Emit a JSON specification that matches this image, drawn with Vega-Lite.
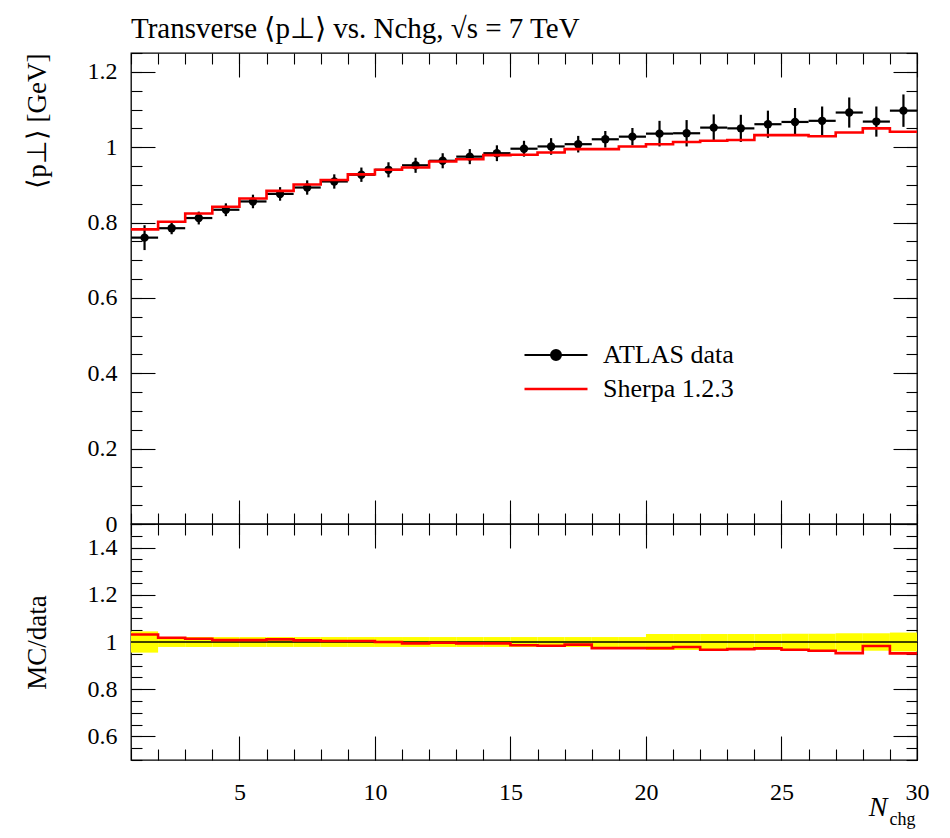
{
  "$schema": "https://vega.github.io/schema/vega-lite/v6.json",
  "padding": {"left": 22, "top": 14, "right": 10, "bottom": 5},
  "background": "white",
  "spacing": 0,
  "bounds": "flush",
  "resolve": {"scale": {"fill": "independent", "stroke": "independent"}, "legend": {"fill": "independent", "stroke": "independent"}},
  "data": {"values": [
    {"lo": 1, "hi": 2, "x": 1.5, "y": 0.760, "ylo": 0.727, "yhi": 0.793, "mc": 0.782, "ratio": 1.032, "blo": 0.955, "bhi": 1.045},
    {"lo": 2, "hi": 3, "x": 2.5, "y": 0.785, "ylo": 0.769, "yhi": 0.801, "mc": 0.802, "ratio": 1.018, "blo": 0.979, "bhi": 1.021},
    {"lo": 3, "hi": 4, "x": 3.5, "y": 0.812, "ylo": 0.795, "yhi": 0.829, "mc": 0.824, "ratio": 1.014, "blo": 0.979, "bhi": 1.021},
    {"lo": 4, "hi": 5, "x": 4.5, "y": 0.834, "ylo": 0.817, "yhi": 0.851, "mc": 0.842, "ratio": 1.008, "blo": 0.979, "bhi": 1.021},
    {"lo": 5, "hi": 6, "x": 5.5, "y": 0.856, "ylo": 0.838, "yhi": 0.874, "mc": 0.864, "ratio": 1.008, "blo": 0.979, "bhi": 1.021},
    {"lo": 6, "hi": 7, "x": 6.5, "y": 0.876, "ylo": 0.858, "yhi": 0.894, "mc": 0.884, "ratio": 1.011, "blo": 0.979, "bhi": 1.021},
    {"lo": 7, "hi": 8, "x": 7.5, "y": 0.893, "ylo": 0.874, "yhi": 0.912, "mc": 0.901, "ratio": 1.007, "blo": 0.979, "bhi": 1.021},
    {"lo": 8, "hi": 9, "x": 8.5, "y": 0.909, "ylo": 0.890, "yhi": 0.928, "mc": 0.913, "ratio": 1.004, "blo": 0.979, "bhi": 1.021},
    {"lo": 9, "hi": 10, "x": 9.5, "y": 0.927, "ylo": 0.908, "yhi": 0.946, "mc": 0.928, "ratio": 1.004, "blo": 0.979, "bhi": 1.021},
    {"lo": 10, "hi": 11, "x": 10.5, "y": 0.940, "ylo": 0.920, "yhi": 0.960, "mc": 0.940, "ratio": 1.000, "blo": 0.979, "bhi": 1.021},
    {"lo": 11, "hi": 12, "x": 11.5, "y": 0.952, "ylo": 0.932, "yhi": 0.972, "mc": 0.946, "ratio": 0.994, "blo": 0.979, "bhi": 1.021},
    {"lo": 12, "hi": 13, "x": 12.5, "y": 0.964, "ylo": 0.944, "yhi": 0.984, "mc": 0.962, "ratio": 0.997, "blo": 0.979, "bhi": 1.021},
    {"lo": 13, "hi": 14, "x": 13.5, "y": 0.975, "ylo": 0.955, "yhi": 0.995, "mc": 0.968, "ratio": 0.994, "blo": 0.979, "bhi": 1.021},
    {"lo": 14, "hi": 15, "x": 14.5, "y": 0.984, "ylo": 0.963, "yhi": 1.005, "mc": 0.979, "ratio": 0.994, "blo": 0.979, "bhi": 1.021},
    {"lo": 15, "hi": 16, "x": 15.5, "y": 0.996, "ylo": 0.975, "yhi": 1.017, "mc": 0.980, "ratio": 0.986, "blo": 0.979, "bhi": 1.021},
    {"lo": 16, "hi": 17, "x": 16.5, "y": 1.002, "ylo": 0.980, "yhi": 1.024, "mc": 0.986, "ratio": 0.984, "blo": 0.979, "bhi": 1.021},
    {"lo": 17, "hi": 18, "x": 17.5, "y": 1.008, "ylo": 0.986, "yhi": 1.030, "mc": 0.995, "ratio": 0.989, "blo": 0.979, "bhi": 1.021},
    {"lo": 18, "hi": 19, "x": 18.5, "y": 1.021, "ylo": 0.999, "yhi": 1.043, "mc": 0.995, "ratio": 0.974, "blo": 0.979, "bhi": 1.021},
    {"lo": 19, "hi": 20, "x": 19.5, "y": 1.028, "ylo": 1.005, "yhi": 1.051, "mc": 1.002, "ratio": 0.974, "blo": 0.979, "bhi": 1.021},
    {"lo": 20, "hi": 21, "x": 20.5, "y": 1.036, "ylo": 1.002, "yhi": 1.070, "mc": 1.008, "ratio": 0.974, "blo": 0.966, "bhi": 1.034},
    {"lo": 21, "hi": 22, "x": 21.5, "y": 1.037, "ylo": 1.002, "yhi": 1.072, "mc": 1.014, "ratio": 0.979, "blo": 0.966, "bhi": 1.034},
    {"lo": 22, "hi": 23, "x": 22.5, "y": 1.052, "ylo": 1.017, "yhi": 1.087, "mc": 1.017, "ratio": 0.967, "blo": 0.966, "bhi": 1.034},
    {"lo": 23, "hi": 24, "x": 23.5, "y": 1.050, "ylo": 1.014, "yhi": 1.086, "mc": 1.019, "ratio": 0.970, "blo": 0.966, "bhi": 1.034},
    {"lo": 24, "hi": 25, "x": 24.5, "y": 1.061, "ylo": 1.025, "yhi": 1.097, "mc": 1.032, "ratio": 0.973, "blo": 0.966, "bhi": 1.034},
    {"lo": 25, "hi": 26, "x": 25.5, "y": 1.067, "ylo": 1.030, "yhi": 1.104, "mc": 1.032, "ratio": 0.967, "blo": 0.965, "bhi": 1.035},
    {"lo": 26, "hi": 27, "x": 26.5, "y": 1.070, "ylo": 1.032, "yhi": 1.108, "mc": 1.029, "ratio": 0.963, "blo": 0.965, "bhi": 1.035},
    {"lo": 27, "hi": 28, "x": 27.5, "y": 1.092, "ylo": 1.052, "yhi": 1.132, "mc": 1.039, "ratio": 0.953, "blo": 0.963, "bhi": 1.037},
    {"lo": 28, "hi": 29, "x": 28.5, "y": 1.068, "ylo": 1.028, "yhi": 1.108, "mc": 1.050, "ratio": 0.983, "blo": 0.963, "bhi": 1.037},
    {"lo": 29, "hi": 30, "x": 29.5, "y": 1.097, "ylo": 1.054, "yhi": 1.140, "mc": 1.041, "ratio": 0.952, "blo": 0.960, "bhi": 1.040}
  ]},
  "config": {
    "font": "Liberation Serif",
    "view": {"stroke": "black", "strokeWidth": 1.3},
    "axis": {
      "grid": false, "domain": false, "labelFlush": false, "labelOverlap": false, "labelBound": false,
      "labelFontSize": 24, "labelColor": "black",
      "titleFontSize": 27, "titleFontWeight": "normal", "titleColor": "black",
      "tickColor": "black", "tickWidth": 1.1, "labels": false, "title": null
    }
  },
  "vconcat": [
    {
      "width": 786,
      "height": 471,
      "title": {"text": "Transverse ⟨p⊥⟩ vs. Nchg, √s = 7 TeV", "anchor": "start", "frame": "group", "font": "Liberation Serif", "fontSize": 29, "fontWeight": "normal", "color": "black", "offset": 8},
      "resolve": {"axis": {"x": "independent", "y": "independent"}},
      "layer": [
        {
          "mark": {"type": "rule", "color": "black", "strokeWidth": 2.2},
          "encoding": {
            "x": {"field": "lo", "type": "quantitative", "scale": {"domain": [1, 30], "nice": false, "zero": false},
                  "axis": {"orient": "bottom", "values": [5, 10, 15, 20, 25, 30], "tickSize": -24, "labels": false, "title": null}},
            "x2": {"field": "hi"},
            "y": {"field": "y", "type": "quantitative", "scale": {"domain": [0, 1.25], "nice": false, "zero": false},
                  "axis": {"orient": "left", "values": [0, 0.2, 0.4, 0.6, 0.8, 1, 1.2], "tickSize": -24, "labels": true, "format": "~g",
                           "labelFont": "Liberation Serif", "labelFontSize": 24, "labelPadding": 38,
                           "title": "⟨p⊥⟩ [GeV]", "titleFont": "Liberation Serif", "titleAnchor": "end", "titlePadding": 36}}
          }
        },
        {
          "mark": {"type": "rule", "color": "black", "strokeWidth": 2.2},
          "encoding": {
            "x": {"field": "x", "type": "quantitative",
                  "axis": {"orient": "bottom", "values": [1,2,3,4,5,6,7,8,9,10,11,12,13,14,15,16,17,18,19,20,21,22,23,24,25,26,27,28,29,30], "tickSize": -11, "labels": false, "title": null}},
            "y": {"field": "ylo", "type": "quantitative",
                  "axis": {"orient": "left", "values": [0,0.05,0.1,0.15,0.2,0.25,0.3,0.35,0.4,0.45,0.5,0.55,0.6,0.65,0.7,0.75,0.8,0.85,0.9,0.95,1,1.05,1.1,1.15,1.2,1.25], "tickSize": -11, "labels": false, "title": null}},
            "y2": {"field": "yhi"}
          }
        },
        {
          "mark": {"type": "point", "filled": true, "size": 70, "opacity": 1},
          "encoding": {
            "x": {"field": "x", "type": "quantitative",
                  "axis": {"orient": "top", "values": [5, 10, 15, 20, 25, 30], "tickSize": -24, "labels": false, "title": null}},
            "y": {"field": "y", "type": "quantitative",
                  "axis": {"orient": "right", "values": [0, 0.2, 0.4, 0.6, 0.8, 1, 1.2], "tickSize": -24, "labels": false, "title": null}},
            "fill": {
              "datum": "ATLAS data",
              "scale": {"domain": ["ATLAS data"], "range": ["black"]},
              "legend": {
                "orient": "none", "legendX": 412, "legendY": 289, "title": null, "padding": 0,
                "labelFont": "Liberation Serif", "labelFontSize": 26, "labelColor": "black", "labelOffset": 34, "labelLimit": 0,
                "symbolType": "M-6.3,0H6.3M1,0A1,1,0,1,1,-1,0A1,1,0,1,1,1,0Z",
                "symbolSize": 100, "symbolStrokeColor": "black", "symbolStrokeWidth": 2, "symbolOpacity": 1
              }
            }
          }
        },
        {
          "transform": [{"fold": ["lo", "hi"], "as": ["edge", "xe"]}],
          "mark": {"type": "line", "strokeWidth": 2.6},
          "encoding": {
            "x": {"field": "xe", "type": "quantitative",
                  "axis": {"orient": "top", "values": [1,2,3,4,5,6,7,8,9,10,11,12,13,14,15,16,17,18,19,20,21,22,23,24,25,26,27,28,29,30], "tickSize": -11, "labels": false, "title": null}},
            "y": {"field": "mc", "type": "quantitative",
                  "axis": {"orient": "right", "values": [0,0.05,0.1,0.15,0.2,0.25,0.3,0.35,0.4,0.45,0.5,0.55,0.6,0.65,0.7,0.75,0.8,0.85,0.9,0.95,1,1.05,1.1,1.15,1.2,1.25], "tickSize": -11, "labels": false, "title": null}},
            "stroke": {
              "datum": "Sherpa 1.2.3",
              "scale": {"domain": ["Sherpa 1.2.3"], "range": ["#ff0000"]},
              "legend": {
                "orient": "none", "legendX": 412, "legendY": 323, "title": null, "padding": 0,
                "labelFont": "Liberation Serif", "labelFontSize": 26, "labelColor": "black", "labelOffset": 34, "labelLimit": 0,
                "symbolType": "M-6.3,0H6.3",
                "symbolSize": 100, "symbolStrokeWidth": 2.6, "symbolOpacity": 1
              }
            },
            "order": [{"field": "xe", "type": "quantitative"}, {"field": "edge", "type": "nominal"}]
          }
        }
      ]
    },
    {
      "width": 786,
      "height": 236,
      "resolve": {"axis": {"x": "independent", "y": "independent"}},
      "layer": [
        {
          "mark": {"type": "rect", "color": "#ffff00", "opacity": 1},
          "encoding": {
            "x": {"field": "lo", "type": "quantitative", "scale": {"domain": [1, 30], "nice": false, "zero": false},
                  "axis": {"orient": "top", "values": [5, 10, 15, 20, 25, 30], "tickSize": -24, "labels": false, "title": null}},
            "x2": {"field": "hi"},
            "y": {"field": "blo", "type": "quantitative", "scale": {"domain": [0.5, 1.5], "nice": false, "zero": false},
                  "axis": {"orient": "right", "values": [0.6, 0.8, 1, 1.2, 1.4], "tickSize": -24, "labels": false, "title": null}},
            "y2": {"field": "bhi"}
          }
        },
        {
          "data": {"values": [{}]},
          "mark": {"type": "rule", "color": "black", "strokeWidth": 1.3},
          "encoding": {
            "x": {"datum": 1, "type": "quantitative",
                  "axis": {"orient": "top", "values": [1,2,3,4,5,6,7,8,9,10,11,12,13,14,15,16,17,18,19,20,21,22,23,24,25,26,27,28,29,30], "tickSize": -11, "labels": false, "title": null}},
            "x2": {"datum": 30},
            "y": {"datum": 1, "type": "quantitative",
                  "axis": {"orient": "right", "values": [0.5,0.55,0.6,0.65,0.7,0.75,0.8,0.85,0.9,0.95,1,1.05,1.1,1.15,1.2,1.25,1.3,1.35,1.4,1.45,1.5], "tickSize": -11, "labels": false, "title": null}}
          }
        },
        {
          "mark": {"type": "point", "opacity": 0},
          "encoding": {
            "x": {"field": "x", "type": "quantitative",
                  "axis": {"orient": "bottom", "values": [1,2,3,4,5,6,7,8,9,10,11,12,13,14,15,16,17,18,19,20,21,22,23,24,25,26,27,28,29,30], "tickSize": -11, "labels": false,
                           "title": "chg", "titleFont": "Liberation Serif", "titleFontSize": 18, "titleX": 758, "titleAlign": "left", "titlePadding": 50}},
            "y": {"field": "ratio", "type": "quantitative",
                  "axis": {"orient": "left", "values": [0.5,0.55,0.6,0.65,0.7,0.75,0.8,0.85,0.9,0.95,1,1.05,1.1,1.15,1.2,1.25,1.3,1.35,1.4,1.45,1.5], "tickSize": -11, "labels": false, "title": null}}
          }
        },
        {
          "transform": [{"fold": ["lo", "hi"], "as": ["edge", "xe"]}],
          "mark": {"type": "line", "strokeWidth": 2.6, "color": "#ff0000"},
          "encoding": {
            "x": {"field": "xe", "type": "quantitative",
                  "axis": {"orient": "bottom", "values": [5, 10, 15, 20, 25, 30], "tickSize": -24, "labels": true, "format": "d",
                           "labelFont": "Liberation Serif", "labelFontSize": 24, "labelPadding": 44,
                           "title": "N", "titleFont": "Liberation Serif", "titleFontStyle": "italic", "titleFontSize": 28,
                           "titleX": 756, "titleAlign": "right", "titlePadding": -11}},
            "y": {"field": "ratio", "type": "quantitative",
                  "axis": {"orient": "left", "values": [0.6, 0.8, 1, 1.2, 1.4], "tickSize": -24, "labels": true, "format": "~g",
                           "labelFont": "Liberation Serif", "labelFontSize": 24, "labelPadding": 38,
                           "title": "MC/data", "titleFont": "Liberation Serif", "titlePadding": 36}},
            "order": [{"field": "xe", "type": "quantitative"}, {"field": "edge", "type": "nominal"}]
          }
        }
      ]
    }
  ]
}
